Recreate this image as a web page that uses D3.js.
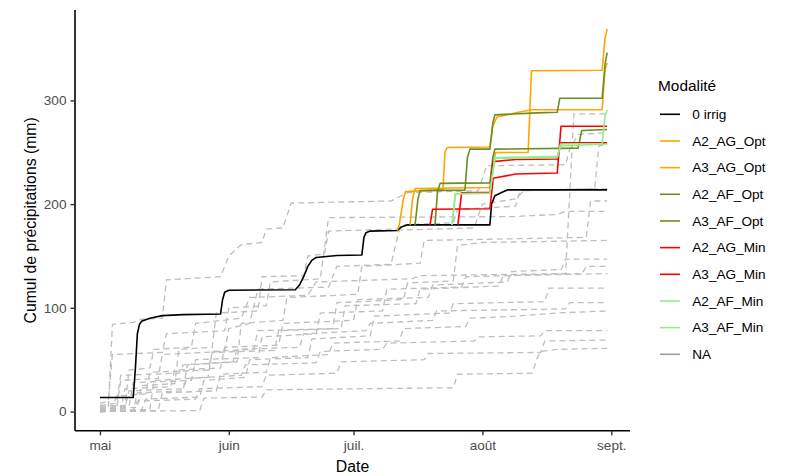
<!DOCTYPE html>
<html>
<head>
<meta charset="utf-8">
<script src="https://cdn.jsdelivr.net/npm/d3@7"></script>
<style>
  body { margin: 0; background: #fff; }
  svg { display: block; font-family: "Liberation Sans", Arial, sans-serif; }
</style>
</head>
<body>
<svg id="chart" width="795" height="476"></svg>
<script>
// Cumulative rainfall per modality, days counted from 1 May
const seasonStart = "2023-05-01";

const categories = ["0 irrig", "A2_AG_Opt", "A3_AG_Opt", "A2_AF_Opt", "A3_AF_Opt",
                    "A2_AG_Min", "A3_AG_Min", "A2_AF_Min", "A3_AF_Min", "NA"];

const monthTickDates = ["2023-05-01", "2023-06-01", "2023-07-01", "2023-08-01", "2023-09-01"];
const monthTickLabels = ["mai", "juin", "juil.", "août", "sept."];
const yTickValues = [0, 100, 200, 300];

// [day offset, cumulative mm]
const zeroIrrig = [[0,13.5],[8,13.5],[8.5,40],[9,75],[9.5,84],[10,87],[12,90],[15,92.5],[20,93.5],[29,94],[29.5,108],[30,115],[31,117],[47,117.5],[48,122],[49,130],[50,140],[51,146],[52,148.5],[57,150.5],[63,151],[63.5,168],[64,172.5],[65,174],[71.5,174.5],[72.5,178],[74,180],[93.8,180],[94.2,200],[95,208],[97,212],[98,213.7],[122,213.7]];
const a2AgOpt = [[71.5,174.5],[72,180],[73,205],[73.5,212],[82.5,214],[83,250],[83.5,254.6],[93.8,255],[94.5,275],[95.5,284],[100,288],[104,291],[120.8,291],[121.5,330],[122,336]];
const a3AgOpt = [[74.6,180],[75.2,205],[75.8,215],[93.8,216],[94.5,240],[95.2,249.7],[103,250],[103.8,328.5],[120.8,329],[121.5,360],[122,368.7]];
const a2AfOpt = [[75.8,180],[76.5,205],[77,213],[87.8,213.5],[88.4,245],[89,253],[93.8,253],[94.5,278],[95,286],[105,288],[110,288.5],[110.6,302],[120.8,302],[121.5,335],[122,346]];
const a3AfOpt = [[80.6,180],[81.2,212],[81.8,220],[93.8,220.5],[94.5,245],[95,253],[115,254],[115.9,271],[122,272]];
const a2AgMin = [[79.4,180],[80,195],[93.8,195.5],[94.6,225],[100,229],[110,230],[110.9,275],[122,275]];
const a3AgMin = [[86.1,180],[87,211],[93.8,211.5],[94.6,241],[100,243],[110,243.5],[110.9,259],[122,259]];
const a2AfMin = [[84.7,180],[85.5,210],[93.8,210.5],[95,245],[110,246],[110.8,258],[120.8,258.5],[121.5,285],[122,291]];
const a3AfMin = [[84.7,180],[85.5,210],[93.8,210.5],[95,244],[110,245],[110.8,256],[122,258]];

// other seasons, no modality (NA)
const naSeries = [
  [[0,2],[2,3],[3,84],[8,86],[10,89],[15,90],[16,127],[29,130],[31,150],[34,161],[39,163],[40,176],[44,177],[46,201],[70,203],[74,211],[91,213],[93,237],[112,238],[113,253],[115,267],[122,269]],
  [[0,5],[6,6],[7,40],[12,42],[13,60],[22,62],[23,85],[34,90],[36,110],[50,112],[52,125],[75,128],[77,131],[112,133],[114,287],[122,287]],
  [[0,0],[4,2],[5,30],[14,32],[15,55],[30,58],[31,80],[36,85],[38,118],[55,120],[57,140],[70,142],[72,175],[90,177],[92,200],[100,205],[102,213],[119,215],[120,256],[122,258]],
  [[0,3],[9,4],[10,25],[18,27],[19,60],[27,62],[28,95],[38,97],[39,130],[49,131],[50,150],[54,152],[55,174],[72,176],[73,180],[85,182],[86,195],[100,198],[101,213],[122,215]],
  [[0,0],[8,1],[9,18],[20,20],[21,45],[33,48],[34,85],[44,88],[45,110],[62,113],[63,140],[77,143],[78,165],[105,167],[117,168],[118,203],[122,203]],
  [[0,8],[2,10],[3,55],[15,57],[16,75],[30,78],[31,100],[40,102],[41,125],[53,128],[55,187],[100,188],[104,189],[110,190],[112,193],[122,193]],
  [[0,1],[12,2],[13,30],[26,33],[27,58],[37,60],[38,78],[56,80],[57,105],[73,108],[74,124],[85,126],[86,160],[92,163],[122,165]],
  [[0,0],[5,1],[6,22],[17,24],[18,40],[29,42],[30,62],[43,64],[44,85],[61,88],[62,108],[79,110],[80,122],[98,125],[99,135],[111,137],[112,147],[122,147]],
  [[0,4],[7,5],[8,28],[22,30],[23,50],[38,52],[39,72],[52,75],[53,95],[68,97],[69,118],[87,120],[88,130],[116,133],[117,140],[122,140]],
  [[0,2],[3,3],[4,15],[11,17],[12,38],[26,40],[27,57],[42,59],[43,78],[58,80],[59,102],[76,104],[77,118],[96,121],[97,131],[122,133]],
  [[0,0],[10,1],[11,12],[24,14],[25,30],[35,33],[36,50],[50,52],[51,70],[65,73],[66,92],[84,95],[85,104],[107,106],[108,119],[122,119]],
  [[0,6],[4,8],[5,35],[19,37],[20,45],[32,48],[33,60],[48,62],[49,75],[64,78],[65,85],[80,88],[81,97],[112,99],[113,105],[122,105]],
  [[0,0],[14,1],[15,18],[28,20],[29,36],[40,38],[41,52],[55,55],[56,66],[72,68],[73,80],[88,82],[89,90],[100,92],[110,95],[122,97]],
  [[0,2],[6,3],[7,20],[20,22],[21,32],[34,35],[35,45],[52,47],[53,58],[68,60],[69,66],[90,68],[91,72],[106,73],[107,78],[122,78]],
  [[0,0],[8,1],[9,10],[23,12],[24,22],[39,24],[40,35],[57,37],[58,48],[78,50],[79,56],[106,57],[107,68],[122,69]],
  [[0,0],[24,1],[25,13],[39,14],[40,21],[85,23],[86,36],[104,37],[105,50],[106,58],[110,60],[122,61]]
];

const modalitySeries = [zeroIrrig, a2AgOpt, a3AgOpt, a2AfOpt, a3AfOpt, a2AgMin, a3AgMin, a2AfMin, a3AfMin];

// ---- styling ----
const colorOf = {
  "0 irrig": "#000000",
  "A2_AG_Opt": "#FFA500", "A3_AG_Opt": "#FFA500",
  "A2_AF_Opt": "#6B8E23", "A3_AF_Opt": "#6B8E23",
  "A2_AG_Min": "#FF0000", "A3_AG_Min": "#FF0000",
  "A2_AF_Min": "#90EE90", "A3_AF_Min": "#90EE90",
  "NA": "#9E9E9E"
};

const panel = { left: 75, right: 630, top: 10, bottom: 430.7 };
const t0 = Date.parse(seasonStart + "T00:00:00Z");
const dayToDate = d => new Date(t0 + d * 864e5);

const allValues = modalitySeries.concat(naSeries).flat().map(p => p[1]);
const yMin = Math.min(0, d3.min(allValues));
const yMax = d3.max(allValues);
const yPad = 0.05 * (yMax - yMin);

const x = d3.scaleUtc()
  .domain([dayToDate(-6), dayToDate(127.5)])
  .range([panel.left, panel.right]);
const y = d3.scaleLinear()
  .domain([yMin - yPad, yMax + yPad])
  .range([panel.bottom, panel.top]);

const svg = d3.select("#chart");
const line = d3.line().x(d => x(dayToDate(d[0]))).y(d => y(d[1]));

// NA seasons, dashed grey
const gNA = svg.append("g");
naSeries.forEach(s => {
  gNA.append("path").attr("d", line(s))
    .attr("fill", "none").attr("stroke", "#BEBEBE")
    .attr("stroke-width", 1.3).attr("stroke-dasharray", "6,4");
});

// modalities
const gMod = svg.append("g");
modalitySeries.forEach((s, i) => {
  gMod.append("path").attr("d", line(s))
    .attr("fill", "none").attr("stroke", colorOf[categories[i]])
    .attr("stroke-width", 1.6).attr("stroke-linejoin", "round");
});

// axes
const tickColor = "#333333";
const xAxis = d3.axisBottom(x)
  .tickValues(monthTickDates.map(s => new Date(s + "T00:00:00Z")))
  .tickFormat((d, i) => monthTickLabels[i])
  .tickSize(4.5).tickPadding(5);
const gx = svg.append("g").attr("transform", `translate(0,${panel.bottom})`).call(xAxis);
gx.select(".domain").attr("d", `M${panel.left},0H${panel.right}`)
  .attr("stroke", "#000").attr("stroke-width", 1.6);
gx.selectAll(".tick line").attr("stroke", tickColor).attr("stroke-width", 1.4);
gx.selectAll(".tick text").attr("fill", "#4D4D4D").attr("font-size", 13.6)
  .attr("font-family", "Liberation Sans, Arial, sans-serif");

const yAxis = d3.axisLeft(y).tickValues(yTickValues).tickSize(4.5).tickPadding(4);
const gy = svg.append("g").attr("transform", `translate(${panel.left},0)`).call(yAxis);
gy.select(".domain").attr("d", `M0,${panel.top}V${panel.bottom}`)
  .attr("stroke", "#000").attr("stroke-width", 1.6);
gy.selectAll(".tick line").attr("stroke", tickColor).attr("stroke-width", 1.4);
gy.selectAll(".tick text").attr("fill", "#4D4D4D").attr("font-size", 13.6)
  .attr("font-family", "Liberation Sans, Arial, sans-serif");

// axis titles
svg.append("text").attr("x", (panel.left + panel.right) / 2).attr("y", 472)
  .attr("text-anchor", "middle").attr("font-size", 15.8).attr("fill", "#000").text("Date");
svg.append("text")
  .attr("transform", `translate(36,${(panel.top + panel.bottom) / 2}) rotate(-90)`)
  .attr("text-anchor", "middle").attr("font-size", 15.8).attr("fill", "#000")
  .text("Cumul de précipitations (mm)");

// legend
const lg = svg.append("g");
lg.append("text").attr("x", 658).attr("y", 90.5).attr("font-size", 15.4).attr("fill", "#000").text("Modalité");
const rowY = d3.scalePoint().domain(categories).range([114.3, 354.3]);
categories.forEach(c => {
  const cy = rowY(c);
  lg.append("line").attr("x1", 660).attr("x2", 680).attr("y1", cy).attr("y2", cy)
    .attr("stroke", colorOf[c]).attr("stroke-width", 1.6);
  lg.append("text").attr("x", 692.3).attr("y", cy + 4.8).attr("font-size", 13.6)
    .attr("fill", "#000").text(c);
});
</script>
</body>
</html>
